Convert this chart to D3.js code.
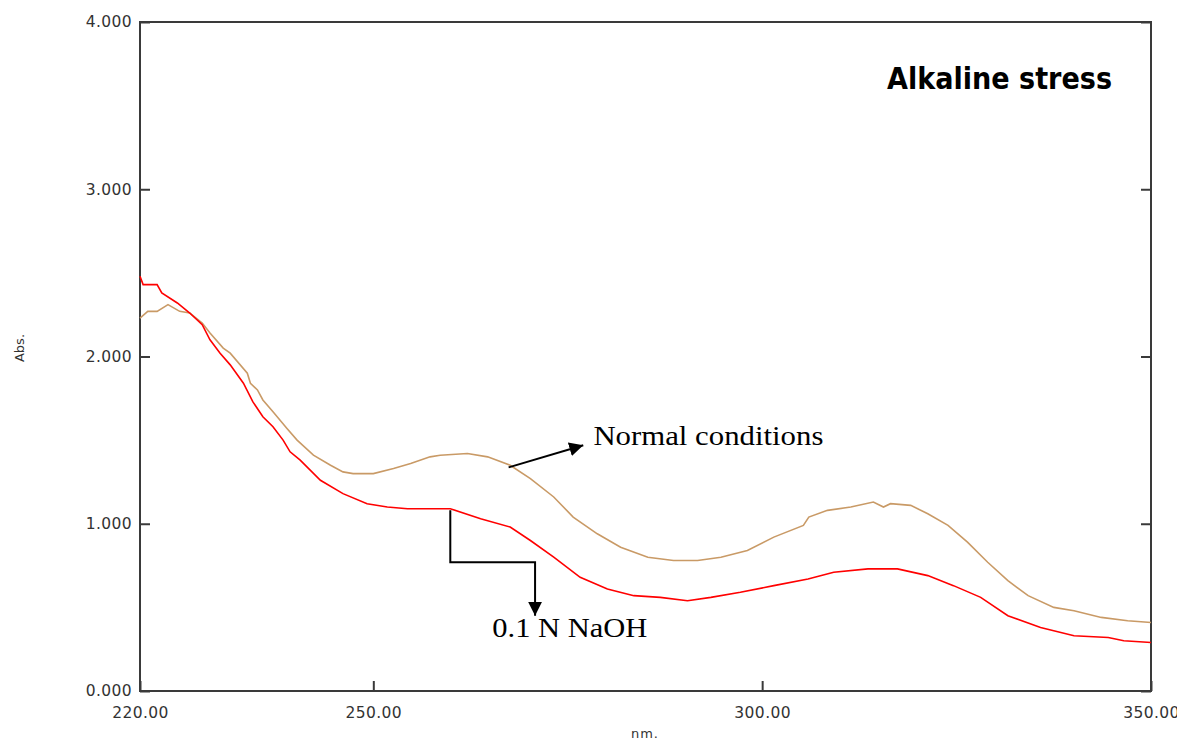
<!DOCTYPE html>
<html>
<head>
<meta charset="utf-8">
<script src="https://cdn.jsdelivr.net/npm/d3@7"></script>
<style>
  html, body { margin: 0; padding: 0; background: #fff; }
  svg { display: block; }
</style>
</head>
<body>
<svg id="chart" width="1177" height="740"></svg>
<script>
// ---- Data ----
const xTicks = [220, 250, 300, 350];
const yTicks = [0, 1, 2, 3, 4];

const naohNm = [220.0, 220.4, 222.2, 222.8, 224.8, 226.4, 228.0, 229.0, 230.3, 231.6, 233.3, 234.5, 235.8, 237.1, 238.4, 239.3, 240.6, 243.2, 246.1, 249.2, 251.8, 254.4, 257.3, 259.9, 263.8, 267.6, 270.2, 273.2, 276.6, 280.1, 283.5, 286.9, 290.4, 293.4, 297.2, 301.5, 305.9, 309.2, 313.6, 317.4, 321.3, 324.6, 328.1, 331.6, 335.8, 340.1, 344.5, 346.5, 350.0];
const naohAbs = [2.48, 2.43, 2.43, 2.38, 2.32, 2.26, 2.19, 2.10, 2.02, 1.95, 1.84, 1.73, 1.64, 1.58, 1.50, 1.43, 1.38, 1.26, 1.18, 1.12, 1.10, 1.09, 1.09, 1.09, 1.03, 0.98, 0.90, 0.80, 0.68, 0.61, 0.57, 0.56, 0.54, 0.56, 0.59, 0.63, 0.67, 0.71, 0.73, 0.73, 0.69, 0.63, 0.56, 0.45, 0.38, 0.33, 0.32, 0.30, 0.29];

const normalNm = [220.0, 221.0, 222.2, 223.6, 225.1, 226.4, 228.0, 229.0, 230.7, 231.6, 233.8, 234.2, 235.1, 235.8, 237.1, 238.9, 240.2, 242.3, 244.5, 246.1, 247.4, 250.0, 252.6, 254.8, 257.3, 258.6, 262.1, 264.7, 267.6, 270.2, 273.2, 275.7, 278.8, 281.8, 285.3, 288.6, 291.7, 294.7, 298.1, 301.5, 305.3, 306.0, 308.4, 311.4, 314.3, 315.6, 316.5, 319.1, 321.3, 323.9, 326.4, 329.0, 331.6, 334.2, 337.5, 340.1, 343.6, 347.0, 350.0];
const normalAbs = [2.23, 2.27, 2.27, 2.31, 2.27, 2.26, 2.20, 2.14, 2.05, 2.02, 1.90, 1.84, 1.80, 1.74, 1.67, 1.57, 1.50, 1.41, 1.35, 1.31, 1.30, 1.30, 1.33, 1.36, 1.40, 1.41, 1.42, 1.40, 1.35, 1.27, 1.16, 1.04, 0.94, 0.86, 0.80, 0.78, 0.78, 0.80, 0.84, 0.92, 0.99, 1.04, 1.08, 1.10, 1.13, 1.10, 1.12, 1.11, 1.06, 0.99, 0.89, 0.77, 0.66, 0.57, 0.50, 0.48, 0.44, 0.42, 0.41];

const titleText = "Alkaline stress";
const xLabel = "nm.";
const yLabel = "Abs.";
const normalLabel = "Normal conditions";
const naohLabel = "0.1 N NaOH";

// ---- Layout ----
const L = 140, R = 1151, T = 22, B = 691;
const svg = d3.select("#chart");

const x = d3.scaleLinear().domain([220, 350]).range([L, R]);
const y = d3.scaleLinear().domain([0, 4]).range([B, T]);

const axisColor = "#3a3a3a";
const labelColor = "#333";
const tickFont = "'DejaVu Sans', Verdana, sans-serif";

// Frame
svg.append("rect")
  .attr("x", L).attr("y", T).attr("width", R - L).attr("height", B - T)
  .attr("fill", "none").attr("stroke", axisColor).attr("stroke-width", 2);

// Bottom axis
const gx = svg.append("g").attr("transform", `translate(0,${B})`)
  .call(d3.axisBottom(x).tickValues(xTicks).tickFormat(d3.format(".2f")).tickSize(-10).tickPadding(16));
gx.select(".domain").remove();
gx.selectAll("line").attr("stroke", axisColor).attr("stroke-width", 2);
gx.selectAll("text").attr("fill", labelColor).style("font-family", tickFont)
  .style("font-size", "15.5px").style("letter-spacing", "0.4px");

// Left axis
const gy = svg.append("g").attr("transform", `translate(${L},0)`)
  .call(d3.axisLeft(y).tickValues(yTicks).tickFormat(d3.format(".3f")).tickSize(-10).tickPadding(8));
gy.select(".domain").remove();
gy.selectAll("line").attr("stroke", axisColor).attr("stroke-width", 2);
gy.selectAll("text").attr("fill", labelColor).style("font-family", tickFont)
  .style("font-size", "15.5px").style("letter-spacing", "0.4px");

// Right axis (ticks only)
const gr = svg.append("g").attr("transform", `translate(${R},0)`)
  .call(d3.axisRight(y).tickValues(yTicks).tickFormat("").tickSize(-10));
gr.select(".domain").remove();
gr.selectAll("line").attr("stroke", axisColor).attr("stroke-width", 2);

// Axis titles
svg.append("text").attr("x", 645).attr("y", 738).attr("text-anchor", "middle")
  .attr("fill", labelColor).style("font-family", tickFont).style("font-size", "13px")
  .style("letter-spacing", "1px").text(xLabel);
svg.append("text").attr("transform", "translate(24,348) rotate(-90)").attr("text-anchor", "middle")
  .attr("fill", labelColor).style("font-family", tickFont).style("font-size", "13px")
  .text(yLabel);

// Curves
const line = d3.line().x(d => x(d[0])).y(d => y(d[1]));
const normalData = normalNm.map((v, i) => [v, normalAbs[i]]);
const naohData = naohNm.map((v, i) => [v, naohAbs[i]]);

svg.append("path").datum(normalData).attr("d", line)
  .attr("fill", "none").attr("stroke", "#c99a66").attr("stroke-width", 1.6);
svg.append("path").datum(naohData).attr("d", line)
  .attr("fill", "none").attr("stroke", "#ff0000").attr("stroke-width", 1.6);

// Title
svg.append("text").attr("x", 887).attr("y", 89)
  .attr("fill", "#000").style("font-family", "'DejaVu Sans', Tahoma, sans-serif")
  .style("font-weight", "bold").style("font-size", "30px")
  .attr("textLength", 225).attr("lengthAdjust", "spacingAndGlyphs")
  .text(titleText);

// Arrow marker
const defs = svg.append("defs");
defs.append("marker").attr("id", "arrow").attr("viewBox", "0 0 10 10")
  .attr("refX", 10).attr("refY", 5).attr("markerWidth", 14).attr("markerHeight", 14)
  .attr("markerUnits", "userSpaceOnUse").attr("orient", "auto")
  .append("path").attr("d", "M0,0 L10,5 L0,10 Z").attr("fill", "#000");

// Normal conditions annotation
svg.append("line")
  .attr("x1", x(267.4)).attr("y1", y(1.337))
  .attr("x2", x(277.0)).attr("y2", y(1.469))
  .attr("stroke", "#000").attr("stroke-width", 2).attr("marker-end", "url(#arrow)");
svg.append("text").attr("x", x(278.3)).attr("y", 445)
  .style("font-family", "'Liberation Serif', 'Times New Roman', serif").style("font-size", "28px")
  .attr("textLength", 230).attr("lengthAdjust", "spacingAndGlyphs")
  .attr("fill", "#000").text(normalLabel);

// NaOH annotation (bracket arrow)
const bx1 = x(259.9), bx2 = x(270.8);
const by1 = y(1.08), by2 = y(0.77), by3 = y(0.45);
svg.append("path")
  .attr("d", `M${bx1},${by1} L${bx1},${by2} L${bx2},${by2} L${bx2},${by3}`)
  .attr("fill", "none").attr("stroke", "#000").attr("stroke-width", 2).attr("marker-end", "url(#arrow)");
svg.append("text").attr("x", x(265.3)).attr("y", 637)
  .style("font-family", "'Liberation Serif', 'Times New Roman', serif").style("font-size", "28px")
  .attr("textLength", 155).attr("lengthAdjust", "spacingAndGlyphs")
  .attr("fill", "#000").text(naohLabel);
</script>
</body>
</html>
